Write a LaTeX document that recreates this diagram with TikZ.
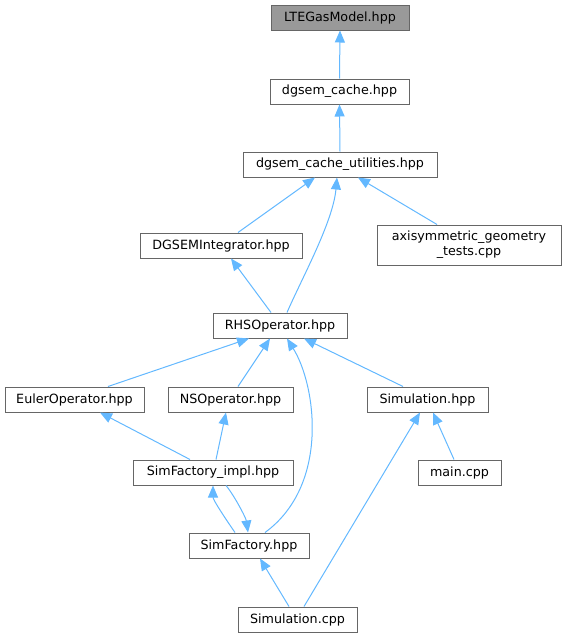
\documentclass[tikz,border=0pt]{standalone}
\usepackage{fontspec}
\setmainfont{DejaVu Sans}
\usetikzlibrary{arrows.meta}
\definecolor{edgeblue}{HTML}{63B8FF}
\definecolor{boxgray}{HTML}{666666}
\definecolor{rootfill}{HTML}{999999}
\begin{document}
\begin{tikzpicture}[x=1pt,y=-1pt,
  box/.style={draw=boxgray, line width=1pt, fill=white, inner sep=0pt,
    minimum height=25pt, font=\fontsize{12.7}{15}\selectfont, align=center},
  edge/.style={draw=edgeblue, line width=1pt, {Triangle[length=12pt,width=10pt]}-}]
\useasboundingbox (0,0) rectangle (566,637);
\node[box, minimum width=138pt, fill=rootfill] (lte)   at (340,17.5)   {LTEGasModel.hpp};
\node[box, minimum width=139pt] (cache) at (339.5,91.5) {dgsem\_cache.hpp};
\node[box, minimum width=194pt] (util)  at (340,164.5)  {dgsem\_cache\_utilities.hpp};
\node[box, minimum width=162pt] (dgi)   at (221,245.5)  {DGSEMIntegrator.hpp};
\node[box, minimum width=184pt, minimum height=40pt] (axi) at (469,245) {axisymmetric\_geometry\\\_tests.cpp};
\node[box, minimum width=134pt] (rhs)   at (280,325.5)  {RHSOperator.hpp};
\node[box, minimum width=139pt] (euler) at (74.5,399.5) {EulerOperator.hpp};
\node[box, minimum width=125pt] (ns)    at (230.5,399.5) {NSOperator.hpp};
\node[box, minimum width=121pt] (simh)  at (427.5,399.5) {Simulation.hpp};
\node[box, minimum width=160pt] (sfi)   at (213,472.5)  {SimFactory\_impl.hpp};
\node[box, minimum width=83pt]  (mainc) at (459.5,472.5) {main.cpp};
\node[box, minimum width=120pt] (sf)    at (249,545.5)  {SimFactory.hpp};
\node[box, minimum width=119pt] (simc)  at (297.5,619.5) {Simulation.cpp};

\draw[edge] (lte.south) -- (cache.north);
\draw[edge] (cache.south) -- (util.north);
\draw[edge] ([xshift=-25pt]util.south) -- ([xshift=17pt]dgi.north);
\draw[edge] ([xshift=-3pt]util.south) .. controls (333,222) and (302,278) .. ([xshift=7pt]rhs.north);
\draw[edge] ([xshift=18pt]util.south) -- ([xshift=-32pt]axi.north);
\draw[edge] ([xshift=10pt]dgi.south) -- ([xshift=-9pt]rhs.north);
\draw[edge] ([xshift=-31pt]rhs.south) -- ([xshift=33.5pt]euler.north);
\draw[edge] ([xshift=-10pt]rhs.south) -- ([xshift=7.5pt]ns.north);
\draw[edge] ([xshift=7pt]rhs.south) .. controls (316,385) and (330,485) .. ([xshift=16pt]sf.north);
\draw[edge] ([xshift=24pt]rhs.south) -- ([xshift=-24.5pt]simh.north);
\draw[edge] ([xshift=25.5pt]euler.south) -- ([xshift=-23pt]sfi.north);
\draw[edge] ([xshift=-4.5pt]ns.south) -- ([xshift=3pt]sfi.north);
\draw[edge] (sfi.south) .. controls (213,500) and (227,521) .. ([xshift=-14pt]sf.north);
\draw[edge] ([xshift=-1pt]sf.north) .. controls (246,518) and (234,495) .. ([xshift=13pt]sfi.south);
\draw[edge] ([xshift=11pt]sf.south) -- ([xshift=-8.5pt]simc.north);
\draw[edge] ([xshift=-7.5pt]simh.south) -- ([xshift=6.5pt]simc.north);
\draw[edge] ([xshift=5.5pt]simh.south) -- ([xshift=-5.5pt]mainc.north);
\end{tikzpicture}
\end{document}
